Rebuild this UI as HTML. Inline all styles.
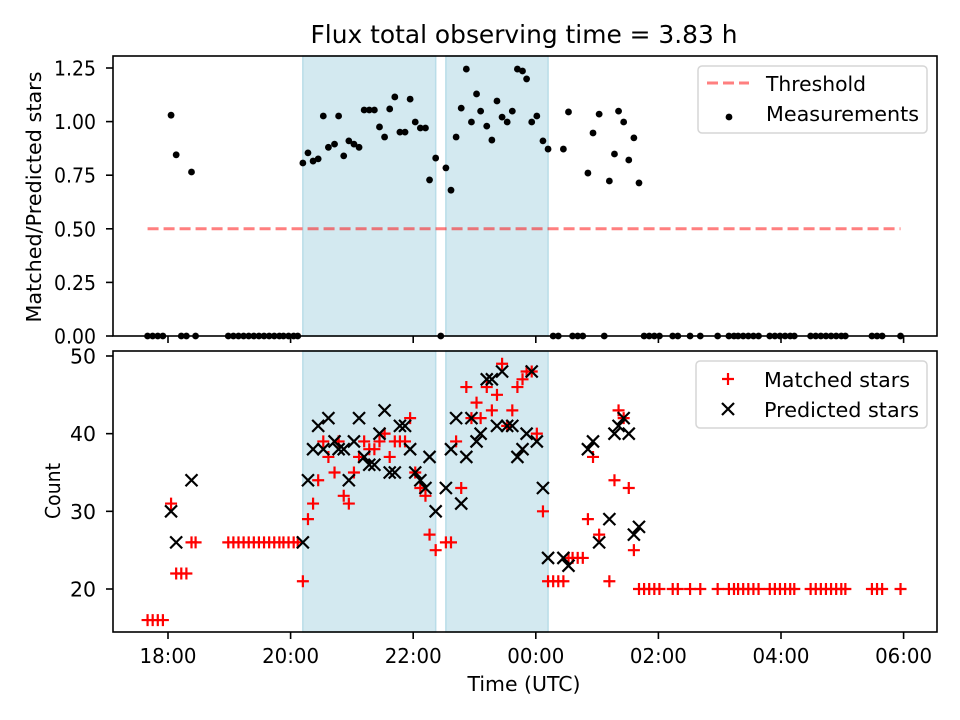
<!DOCTYPE html>
<html><head><meta charset="utf-8"><style>
body{margin:0;background:#fff}
svg{display:block;font-family:"DejaVu Sans","Liberation Sans",sans-serif}
</style></head><body>
<svg id="chart" width="960" height="720" viewBox="0 0 960 720" xmlns="http://www.w3.org/2000/svg">
<rect width="960" height="720" fill="#fff"/>
<text x="524" y="43" text-anchor="middle" font-size="25" textLength="427" lengthAdjust="spacingAndGlyphs" fill="#000">Flux total observing time = 3.83 h</text>
<g id="topPanel"></g>
<g id="botPanel"></g>
</svg>
<script>
// times in minutes after 18:00 UTC
const spanStarts = [132, 272];
const spanEnds = [262, 372];
const threshold = 0.5;
const thresholdRange = [-20, 717];
const ratioTimes = [-20,-15,-10,-5,3,8,13,18,23,27,59,64,69,74,79,84,89,94,99,104,109,113,118,123,127,
132,137,142,147,152,157,163,167,172,177,182,187,192,197,202,207,212,217,222,227,232,237,242,247,252,256,262,267,
272,277,282,287,292,297,302,306,312,317,322,327,332,337,342,347,351,356,361,367,372,377,382,387,392,396,401,406,411,416,422,427,432,437,441,446,451,456,461,
466,471,476,481,494,499,511,521,538,549,554,558,563,568,573,578,589,594,599,604,609,613,629,634,639,644,649,654,659,663,689,694,699,717];
const ratioValues = [0,0,0,0,1.03,0.845,0,0,0.765,0,0,0,0,0,0,0,0,0,0,0,0,0,0,0,0,
0.807,0.854,0.816,0.826,1.026,0.88,0.895,1.026,0.84,0.91,0.895,0.88,1.054,1.054,1.054,0.975,0.928,1.059,1.115,0.951,0.951,1.105,0.998,0.97,0.97,0.728,0.83,0,
0.784,0.68,0.928,1.063,1.245,0.998,1.129,1.049,0.979,0.914,1.096,1.021,0.998,1.049,1.245,1.236,1.199,0.998,1.026,0.91,0.872,0,0,0.872,1.045,0,0,0,0.76,0.947,1.035,0,0.723,0.849,1.049,0.998,0.821,0.924,0.714,
0,0,0,0,0,0,0,0,0,0,0,0,0,0,0,0,0,0,0,0,0,0,0,0,0,0,0,0,0,0,0,0,0,0,0,0];
const matchedTimes = [-20,-15,-10,-5,3,8,13,18,23,27,59,64,69,74,79,84,89,94,99,104,109,113,118,123,127,
132,137,142,147,152,157,163,167,172,177,182,187,192,197,202,207,212,217,222,227,232,237,242,247,252,256,262,
272,277,282,287,292,297,302,306,312,317,322,327,332,337,342,347,351,356,361,367,372,377,382,387,392,396,401,406,411,416,422,432,437,441,446,451,456,
461,466,471,476,481,494,499,511,521,538,549,554,558,563,568,573,578,589,594,599,604,609,613,629,634,639,644,649,654,659,663,689,694,699,717];
const matchedValues = [16,16,16,16,31,22,22,22,26,26,26,26,26,26,26,26,26,26,26,26,26,26,26,26,26,
21,29,31,34,39,37,35,39,32,31,35,37,39,38,38,39,40,37,39,39,39,42,35,33,32,27,25,
26,26,39,33,46,42,44,42,46,43,45,49,41,43,46,47,48,48,40,30,21,21,21,21,24,24,24,24,29,37,27,21,34,43,42,33,25,
20,20,20,20,20,20,20,20,20,20,20,20,20,20,20,20,20,20,20,20,20,20,20,20,20,20,20,20,20,20,20,20,20,20,20];
const predictedTimes = [3,8,23,132,137,142,147,152,157,163,167,172,177,182,187,192,197,202,207,212,217,222,227,232,237,242,247,252,256,262,
272,277,282,287,292,297,302,306,312,317,322,327,332,337,342,347,351,356,361,367,372,387,392,411,416,422,432,437,441,446,451,456,461];
const predictedValues = [30,26,34,26,34,38,41,38,42,39,38,38,34,39,42,37,36,36,40,43,35,35,41,41,38,35,34,33,37,30,
33,38,42,31,37,42,39,40,47,47,41,48,41,41,37,38,40,48,39,33,24,24,23,38,39,26,29,40,41,42,40,27,28];
const xTickMinutes = [0,120,240,360,480,600,720];
const xTickLabels = ["18:00","20:00","22:00","00:00","02:00","04:00","06:00"];
const topTicks = [0,0.25,0.5,0.75,1.0,1.25];
const topTickLabels = ["0.00","0.25","0.50","0.75","1.00","1.25"];
const botTicks = [20,30,40,50];
const botTickLabels = ["20","30","40","50"];

const NS="http://www.w3.org/2000/svg";
const L=113,R=937;
const TOP={t:56,b:336}, BOT={t:351,b:632};
const FS=20.5;
const sx=m=>168+m*61.3/60;
const syT=v=>336-v*214.4;
const syB=v=>589-(v-20)*7.767;
function mk(parent,tag,attrs){const e=document.createElementNS(NS,tag);for(const k in attrs)e.setAttribute(k,attrs[k]);parent.appendChild(e);return e;}
const topG=document.getElementById('topPanel'), botG=document.getElementById('botPanel');

function panel(g,P,isBottom){
  for(let i=0;i<spanStarts.length;i++){
    const r=mk(g,'rect',{x:sx(spanStarts[i]),y:P.t,width:sx(spanEnds[i])-sx(spanStarts[i]),height:P.b-P.t,fill:'#d3e9f0',stroke:'#b9dde8','stroke-width':1.5});
    
    
  }
  xTickMinutes.forEach((m,i)=>{
    const t=mk(g,'line',{x1:sx(m),x2:sx(m),y1:P.b,y2:P.b+7,stroke:'#000','stroke-width':1.6});
    
    
    if(isBottom){
      const tx=mk(g,'text',{x:sx(m),y:P.b+31,'text-anchor':'middle','font-size':FS,textLength:57,lengthAdjust:'spacingAndGlyphs'});
      tx.textContent=xTickLabels[i];
      
      
    }
  });
}
panel(topG,TOP,false);
panel(botG,BOT,true);

topTicks.forEach((v,i)=>{
  const t=mk(topG,'line',{x1:L-7,x2:L,y1:syT(v),y2:syT(v),stroke:'#000','stroke-width':1.6});
  
  
  const tx=mk(topG,'text',{x:L-17,y:syT(v)+7.5,'text-anchor':'end','font-size':FS,textLength:42,lengthAdjust:'spacingAndGlyphs'});
  tx.textContent=topTickLabels[i];
  
  
});
botTicks.forEach((v,i)=>{
  const t=mk(botG,'line',{x1:L-7,x2:L,y1:syB(v),y2:syB(v),stroke:'#000','stroke-width':1.6});
  
  
  const tx=mk(botG,'text',{x:L-17,y:syB(v)+7.5,'text-anchor':'end','font-size':FS,textLength:26,lengthAdjust:'spacingAndGlyphs'});
  tx.textContent=botTickLabels[i];
  
  
});

const th=mk(topG,'line',{x1:sx(thresholdRange[0]),x2:sx(thresholdRange[1]),y1:syT(threshold),y2:syT(threshold),stroke:'#ff0000','stroke-opacity':0.5,'stroke-width':3,'stroke-dasharray':'11,5'});



ratioTimes.forEach((m,i)=>{
  const c=mk(topG,'circle',{cx:sx(m),cy:syT(ratioValues[i]),r:3.4,fill:'#000'});
  
  
});
matchedTimes.forEach((m,i)=>{
  const x=sx(m),y=syB(matchedValues[i]);
  const p=mk(botG,'path',{d:`M${x-6},${y}H${x+6}M${x},${y-6}V${y+6}`,stroke:'#ff0000','stroke-width':2.2,fill:'none'});
  
  
});
predictedTimes.forEach((m,i)=>{
  const x=sx(m),y=syB(predictedValues[i]);
  const p=mk(botG,'path',{d:`M${x-6},${y-6}L${x+6},${y+6}M${x-6},${y+6}L${x+6},${y-6}`,stroke:'#000','stroke-width':2.2,fill:'none'});
  
  
});

const f1=mk(topG,'rect',{x:L,y:TOP.t,width:R-L,height:TOP.b-TOP.t,fill:'none',stroke:'#000','stroke-width':1.6});


const f2=mk(botG,'rect',{x:L,y:BOT.t,width:R-L,height:BOT.b-BOT.t,fill:'none',stroke:'#000','stroke-width':1.6});



const yl1=mk(topG,'text',{x:0,y:0,transform:'translate(41,197) rotate(-90)','text-anchor':'middle','font-size':FS,textLength:251,lengthAdjust:'spacingAndGlyphs'});
yl1.textContent='Matched/Predicted stars';


const yl2=mk(botG,'text',{x:0,y:0,transform:'translate(60,491) rotate(-90)','text-anchor':'middle','font-size':FS,textLength:56,lengthAdjust:'spacingAndGlyphs'});
yl2.textContent='Count';


const xl=mk(botG,'text',{x:524,y:691,'text-anchor':'middle','font-size':FS,textLength:113,lengthAdjust:'spacingAndGlyphs'});
xl.textContent='Time (UTC)';



const lg1=mk(topG,'g',{});


mk(lg1,'rect',{x:698,y:66,width:229,height:67,rx:4,fill:'#fff','fill-opacity':0.8,stroke:'#d6d6d6','stroke-width':1.5});
mk(lg1,'line',{x1:707,x2:749,y1:83,y2:83,stroke:'#ff0000','stroke-opacity':0.5,'stroke-width':3,'stroke-dasharray':'11,5'});
const t1=mk(lg1,'text',{x:766,y:91,'font-size':FS,textLength:100,lengthAdjust:'spacingAndGlyphs'});t1.textContent='Threshold';


mk(lg1,'circle',{cx:729,cy:117,r:3.4,fill:'#000'});
const t2=mk(lg1,'text',{x:766,y:121,'font-size':FS,textLength:153,lengthAdjust:'spacingAndGlyphs'});t2.textContent='Measurements';



const lg2=mk(botG,'g',{});


mk(lg2,'rect',{x:696,y:361,width:231,height:67,rx:4,fill:'#fff','fill-opacity':0.8,stroke:'#d6d6d6','stroke-width':1.5});
mk(lg2,'path',{d:'M722,379H734M728,373V385',stroke:'#ff0000','stroke-width':2.2});
const t3=mk(lg2,'text',{x:764,y:387,'font-size':FS,textLength:146,lengthAdjust:'spacingAndGlyphs'});t3.textContent='Matched stars';


mk(lg2,'path',{d:'M722,403L734,415M722,415L734,403',stroke:'#000','stroke-width':2.2});
const t4=mk(lg2,'text',{x:764,y:417,'font-size':FS,textLength:155,lengthAdjust:'spacingAndGlyphs'});t4.textContent='Predicted stars';


</script>
</body></html>
